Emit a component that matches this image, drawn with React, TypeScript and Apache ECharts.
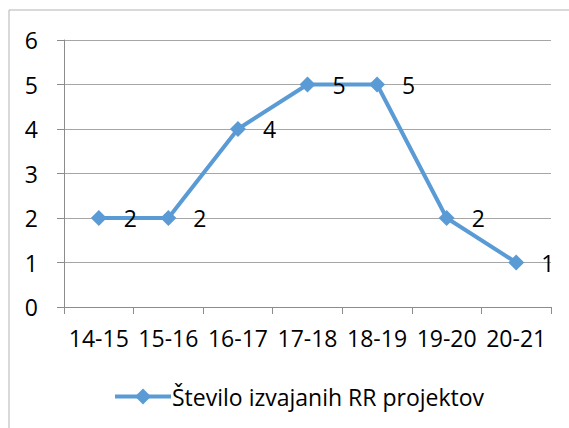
import React, { useEffect, useRef } from "react";
import * as echarts from "echarts";

const categories = ["14-15", "15-16", "16-17", "17-18", "18-19", "19-20", "20-21"];
const values = [2, 2, 4, 5, 5, 2, 1];
const seriesName = "Število izvajanih RR projektov";
const yTicks = { min: 0, max: 6, interval: 1 };

const FONT = "Open Sans";
const BLUE = "#5B9BD5";

export default function App() {
  const ref = useRef<HTMLDivElement>(null);
  useEffect(() => {
    if (!ref.current) return;
    const chart = echarts.init(ref.current, null, { renderer: "svg" });
    chart.setOption({
      animation: false,
      backgroundColor: "#ffffff",
      textStyle: { fontFamily: FONT },
      graphic: [
        {
          type: "rect",
          shape: { x: 9, y: 10, width: 700, height: 600 },
          style: { fill: "none", stroke: "#b3b3b3", lineWidth: 1 },
          silent: true,
          z: -1,
        },
      ],
      grid: { left: 64, right: 18, top: 40, bottom: 121, containLabel: false },
      legend: {
        left: 108,
        top: 380,
        itemWidth: 56,
        itemHeight: 20,
        itemGap: 10,
        lineStyle: { width: 4 },
        textStyle: { fontFamily: FONT, fontSize: 23, color: "#000", padding: [0, 0, 0, -4] },
        data: [{ name: seriesName }],
      },
      xAxis: {
        type: "category",
        data: categories,
        boundaryGap: true,
        axisLine: { lineStyle: { color: "#8c8c8c", width: 1 } },
        axisTick: { show: true, length: 7, lineStyle: { color: "#8c8c8c" } },
        axisLabel: { fontFamily: FONT, fontSize: 23, color: "#000", margin: 19, interval: 0 },
        splitLine: { show: false },
      },
      yAxis: {
        type: "value",
        min: yTicks.min,
        max: yTicks.max,
        interval: yTicks.interval,
        axisLine: { show: true, lineStyle: { color: "#8c8c8c", width: 1 } },
        axisTick: { show: true, length: 7, lineStyle: { color: "#8c8c8c" } },
        axisLabel: { fontFamily: FONT, fontSize: 23, color: "#000", margin: 26 },
        splitLine: { show: true, lineStyle: { color: "#a6a6a6", width: 1 } },
      },
      series: [
        {
          name: seriesName,
          type: "line",
          data: values,
          symbol: "diamond",
          symbolSize: 16,
          itemStyle: { color: BLUE },
          lineStyle: { color: BLUE, width: 4 },
          label: {
            show: true,
            position: "right",
            distance: 17,
            fontFamily: FONT,
            fontSize: 23,
            color: "#000",
          },
        },
      ],
    });
    return () => chart.dispose();
  }, []);
  return (
    <div
      ref={ref}
      style={{ position: "fixed", left: 0, top: 0, width: 569, height: 428 }}
    />
  );
}
